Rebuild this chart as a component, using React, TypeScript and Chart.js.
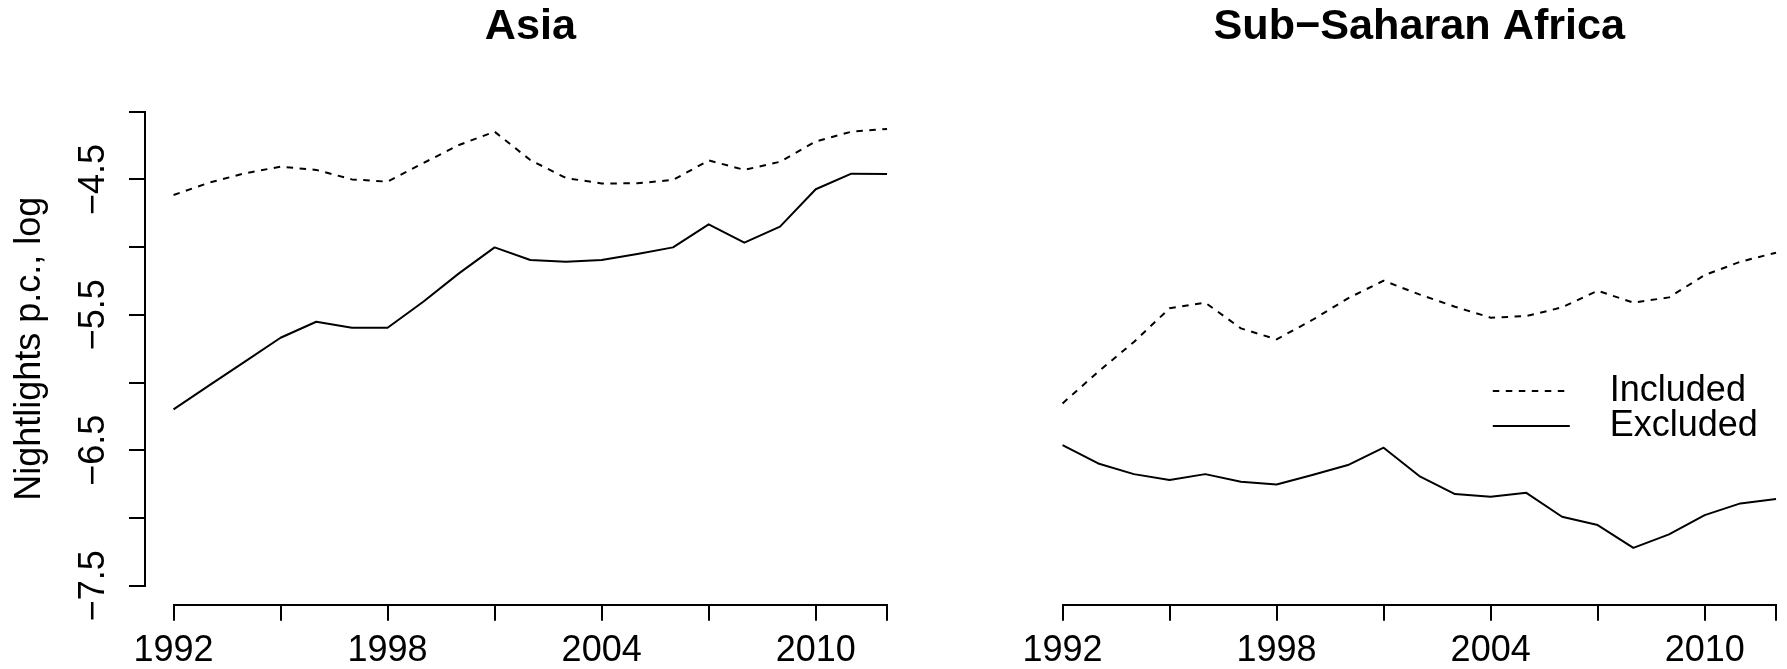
import React, { useEffect, useRef } from "react";
import { Chart, registerables } from "chart.js";

Chart.register(...registerables);

// ---------- data ----------
const YEARS = [1992, 1993, 1994, 1995, 1996, 1997, 1998, 1999, 2000, 2001, 2002, 2003, 2004, 2005, 2006, 2007, 2008, 2009, 2010, 2011, 2012];

const ASIA_INCLUDED = [-4.615, -4.524, -4.455, -4.406, -4.43, -4.5, -4.517, -4.38, -4.246, -4.148, -4.357, -4.49, -4.53, -4.529, -4.504, -4.36, -4.43, -4.37, -4.22, -4.148, -4.128];
const ASIA_EXCLUDED = [-6.198, -6.021, -5.846, -5.669, -5.551, -5.595, -5.595, -5.403, -5.194, -5.002, -5.095, -5.108, -5.095, -5.051, -5.002, -4.832, -4.967, -4.849, -4.573, -4.458, -4.46];

const SSA_INCLUDED = [-6.154, -5.92, -5.7, -5.452, -5.41, -5.6, -5.681, -5.538, -5.378, -5.248, -5.349, -5.44, -5.521, -5.509, -5.445, -5.322, -5.41, -5.371, -5.206, -5.108, -5.041];
const SSA_EXCLUDED = [-6.462, -6.597, -6.676, -6.72, -6.676, -6.733, -6.752, -6.683, -6.609, -6.481, -6.69, -6.823, -6.843, -6.814, -6.991, -7.052, -7.22, -7.121, -6.979, -6.892, -6.86];

const SERIES_LABELS = ["Included", "Excluded"];
const PANEL_TITLES = ["Asia", "Sub\u2212Saharan Africa"];
const Y_TITLE = "Nightlights p.c., log";

const X_TICKS = [1992, 1995, 1998, 2001, 2004, 2007, 2010, 2012];
const X_LABELS = [1992, 1998, 2004, 2010];
const Y_TICKS = [-7.5, -7, -6.5, -6, -5.5, -5, -4.5, -4];
const Y_LABELS = [-7.5, -6.5, -5.5, -4.5];

const X_MIN = 1991.2;
const X_MAX = 2012.8;
const Y_MIN = -7.64;
const Y_MAX = -3.86;

// ---------- style ----------
const FONT = "'Liberation Sans', Arial, Helvetica, sans-serif";
const BASE_SIZE = 36;
const TITLE_SIZE = 43.2;
const CANVAS_W = 960;
const CANVAS_H = 669;
const LINE_W = 2;

const fmtY = (v: number) => v.toFixed(1).replace("-", "\u2212");

const axisLinePlugin = {
  id: "rAxes",
  afterDraw(chart: any, _args: any, opts: any) {
    const { ctx, scales } = chart;
    const xs = scales.x;
    const ys = scales.y;
    ctx.save();
    ctx.strokeStyle = "#000";
    ctx.lineWidth = LINE_W;
    ctx.lineCap = "square";
    const yb = Math.round(xs.top);
    ctx.beginPath();
    ctx.moveTo(Math.round(xs.getPixelForValue(X_TICKS[0])), yb);
    ctx.lineTo(Math.round(xs.getPixelForValue(X_TICKS[X_TICKS.length - 1])), yb);
    ctx.stroke();
    if (opts && opts.yAxis) {
      const xl = Math.round(ys.right);
      ctx.beginPath();
      ctx.moveTo(xl, Math.round(ys.getPixelForValue(Y_TICKS[0])));
      ctx.lineTo(xl, Math.round(ys.getPixelForValue(Y_TICKS[Y_TICKS.length - 1])));
      ctx.stroke();
    }
    ctx.restore();
  },
};

const legendPlugin = {
  id: "rLegend",
  afterDraw(chart: any, _args: any, opts: any) {
    if (!opts || !opts.display) return;
    const { ctx, scales } = chart;
    const x0 = scales.x.getPixelForValue(opts.x);
    const y0 = scales.y.getPixelForValue(opts.y);
    ctx.save();
    ctx.font = `${opts.fontSize}px ${FONT}`;
    ctx.textBaseline = "middle";
    ctx.textAlign = "left";
    ctx.fillStyle = "#000";
    chart.data.datasets.forEach((ds: any, i: number) => {
      const yy = y0 + i * opts.rowHeight;
      ctx.beginPath();
      ctx.setLineDash(ds.borderDash || []);
      ctx.lineWidth = ds.borderWidth;
      ctx.strokeStyle = ds.borderColor;
      ctx.moveTo(x0, yy);
      ctx.lineTo(x0 + opts.lineLength, yy);
      ctx.stroke();
      ctx.setLineDash([]);
      ctx.fillText(ds.label, x0 + opts.lineLength + opts.textGap, yy);
    });
    ctx.restore();
  },
};

function pts(vals: number[]) {
  return YEARS.map((yr, i) => ({ x: yr, y: vals[i] }));
}

function buildConfig(title: string, included: number[], excluded: number[], showYAxis: boolean, showLegend: boolean): any {
  return {
    type: "line",
    data: {
      datasets: [
        {
          label: SERIES_LABELS[0],
          data: pts(included),
          borderColor: "#000",
          borderWidth: LINE_W,
          borderDash: [6.5, 6.5],
          borderJoinStyle: "round",
          pointRadius: 0,
          fill: false,
          tension: 0,
        },
        {
          label: SERIES_LABELS[1],
          data: pts(excluded),
          borderColor: "#000",
          borderWidth: LINE_W,
          borderDash: [],
          borderJoinStyle: "round",
          pointRadius: 0,
          fill: false,
          tension: 0,
        },
      ],
    },
    plugins: [axisLinePlugin, legendPlugin],
    options: {
      animation: false,
      responsive: false,
      devicePixelRatio: 1,
      events: [],
      layout: { padding: { left: 0, top: 0, right: 44.4, bottom: 0 } },
      plugins: {
        legend: { display: false },
        tooltip: { enabled: false },
        title: {
          display: true,
          text: title,
          fullSize: false,
          color: "#000",
          font: { family: FONT, size: TITLE_SIZE, weight: "bold", lineHeight: 1.2 },
          padding: { top: 1.1, bottom: 39.76 },
        },
        rAxes: { yAxis: showYAxis },
        rLegend: {
          display: showLegend,
          x: 2004.06,
          y: -6.063,
          rowHeight: 35,
          lineLength: 77,
          textGap: 40,
          fontSize: BASE_SIZE,
        },
      },
      scales: {
        x: {
          type: "linear",
          position: "bottom",
          min: X_MIN,
          max: X_MAX,
          bounds: "data",
          afterBuildTicks: (s: any) => {
            s.ticks = X_TICKS.map((v) => ({ value: v }));
          },
          afterFit: (s: any) => {
            s.height = 64.3;
          },
          border: { display: false },
          grid: {
            display: true,
            drawOnChartArea: false,
            drawTicks: true,
            tickLength: 16,
            color: "#000",
            lineWidth: LINE_W,
          },
          ticks: {
            autoSkip: false,
            minRotation: 0,
            maxRotation: 0,
            padding: 8.5,
            color: "#000",
            font: { family: FONT, size: BASE_SIZE, lineHeight: 1.2 },
            callback: (v: any) => (X_LABELS.includes(Number(v)) ? String(v) : ""),
          },
        },
        y: {
          type: "linear",
          position: "left",
          min: Y_MIN,
          max: Y_MAX,
          bounds: "data",
          afterBuildTicks: (s: any) => {
            s.ticks = Y_TICKS.map((v) => ({ value: v }));
          },
          afterFit: (s: any) => {
            s.width = 145;
          },
          border: { display: false },
          grid: {
            display: showYAxis,
            drawOnChartArea: false,
            drawTicks: true,
            tickLength: 16,
            color: "#000",
            lineWidth: LINE_W,
          },
          ticks: {
            display: showYAxis,
            autoSkip: false,
            minRotation: 90,
            maxRotation: 90,
            crossAlign: "center",
            padding: -1,
            color: "#000",
            font: { family: FONT, size: BASE_SIZE, lineHeight: 1.2 },
            callback: (v: any) => (Y_LABELS.includes(Number(v)) ? fmtY(Number(v)) : ""),
          },
          title: {
            display: showYAxis,
            text: Y_TITLE,
            color: "#000",
            font: { family: FONT, size: BASE_SIZE, lineHeight: 1.2 },
            padding: { top: 8.4, bottom: 0 },
          },
        },
      },
    },
  };
}

export default function App() {
  const leftRef = useRef<HTMLCanvasElement>(null);
  const rightRef = useRef<HTMLCanvasElement>(null);

  useEffect(() => {
    const c1 = new Chart(leftRef.current as HTMLCanvasElement, buildConfig(PANEL_TITLES[0], ASIA_INCLUDED, ASIA_EXCLUDED, true, false));
    const c2 = new Chart(rightRef.current as HTMLCanvasElement, buildConfig(PANEL_TITLES[1], SSA_INCLUDED, SSA_EXCLUDED, false, true));
    return () => {
      c1.destroy();
      c2.destroy();
    };
  }, []);

  return (
    <div
      style={{
        position: "absolute",
        left: 0,
        top: 0,
        width: 1787,
        height: 669,
        overflow: "hidden",
        background: "#fff",
      }}
    >
      <canvas
        ref={leftRef}
        width={CANVAS_W}
        height={CANVAS_H}
        style={{ position: "absolute", left: 0, top: 0, width: CANVAS_W, height: CANVAS_H }}
      />
      <canvas
        ref={rightRef}
        width={CANVAS_W}
        height={CANVAS_H}
        style={{ position: "absolute", left: 889, top: 0, width: CANVAS_W, height: CANVAS_H }}
      />
    </div>
  );
}
